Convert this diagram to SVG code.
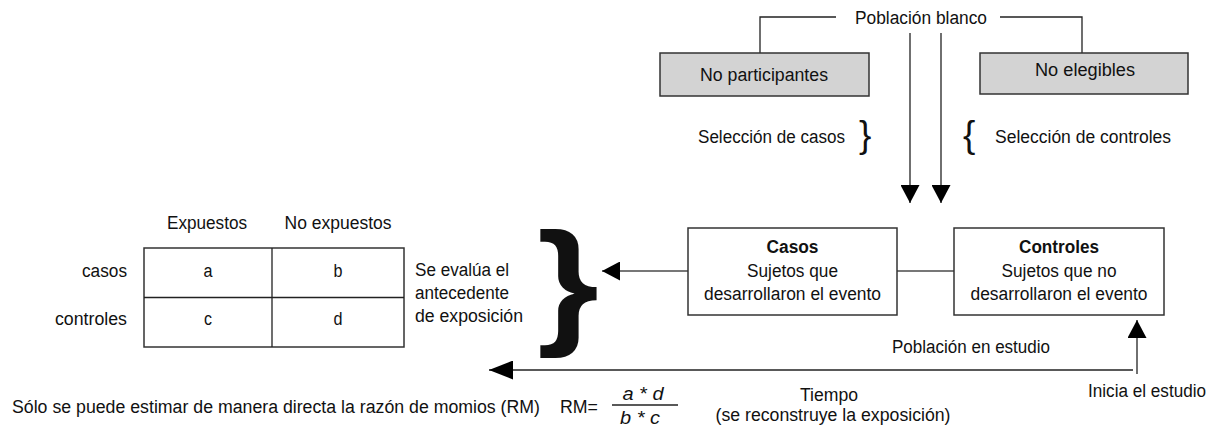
<svg xmlns="http://www.w3.org/2000/svg" width="1218" height="429" viewBox="0 0 1218 429">
<defs>
<style>
text{font-family:"Liberation Sans",Arial,sans-serif;font-size:18px;fill:#111}
.m{text-anchor:middle}
.e{text-anchor:end}
.b{font-weight:bold}
.i{font-style:italic}
.box{fill:#fff;stroke:#333;stroke-width:1.5}
.gbox{fill:#d3d3d3;stroke:#333;stroke-width:1.5}
.ln{fill:none;stroke:#222;stroke-width:1.3}
.gl{fill:none;stroke:#777;stroke-width:2}
</style>
<marker id="ah" viewBox="0 0 18 19" refX="18" refY="9.5" markerWidth="18" markerHeight="19" orient="auto" markerUnits="userSpaceOnUse"><path d="M0,0 L18,9.5 L0,19 z" fill="#000"/></marker>
<marker id="ahL" viewBox="0 0 24 19" refX="24" refY="9.5" markerWidth="24" markerHeight="19" orient="auto" markerUnits="userSpaceOnUse"><path d="M0,0 L24,9.5 L0,19 z" fill="#000"/></marker>
</defs>

<g id="connectors">
<path class="ln" d="M836,17 H760 V53"/>
<path class="ln" d="M1000,17 H1082 V53"/>
<path class="ln" d="M910,33 V203" marker-end="url(#ah)"/>
<path class="ln" d="M941,33 V203" marker-end="url(#ah)"/>
<path class="gl" d="M897,271 H954"/>
<path class="gl" d="M688,271 H602" marker-end="url(#ah)"/>
<path class="ln" d="M1133,370 H489" marker-end="url(#ahL)"/>
<path class="ln" d="M1137,374 V320" marker-end="url(#ah)"/>
</g>

<g id="poblacion-blanco"><text class="m" x="921" y="24" textLength="132" lengthAdjust="spacingAndGlyphs">Población blanco</text></g>

<g id="no-participantes">
<rect class="gbox" x="660" y="53" width="209" height="43"/>
<text class="m" x="764" y="81" textLength="128" lengthAdjust="spacingAndGlyphs">No participantes</text>
</g>

<g id="no-elegibles">
<rect class="gbox" x="980" y="53" width="208" height="41"/>
<text class="m" x="1085" y="76" textLength="100" lengthAdjust="spacingAndGlyphs">No elegibles</text>
</g>

<g id="seleccion-casos">
<text class="e" x="845" y="143" textLength="147" lengthAdjust="spacingAndGlyphs">Selección de casos</text>
<text x="859" y="147" style="font-size:37px">}</text>
</g>

<g id="seleccion-controles">
<text x="963" y="147" style="font-size:37px">{</text>
<text x="995" y="143" textLength="176" lengthAdjust="spacingAndGlyphs">Selección de controles</text>
</g>

<g id="casos">
<rect class="box" x="688" y="228" width="209" height="87"/>
<text class="m b" x="792.5" y="253" textLength="52" lengthAdjust="spacingAndGlyphs">Casos</text>
<text class="m" x="792.5" y="277" textLength="91" lengthAdjust="spacingAndGlyphs">Sujetos que</text>
<text class="m" x="792.5" y="300" textLength="177" lengthAdjust="spacingAndGlyphs">desarrollaron el evento</text>
</g>

<g id="controles">
<rect class="box" x="954" y="228" width="210" height="87"/>
<text class="m b" x="1059" y="253" textLength="80" lengthAdjust="spacingAndGlyphs">Controles</text>
<text class="m" x="1059" y="277" textLength="115" lengthAdjust="spacingAndGlyphs">Sujetos que no</text>
<text class="m" x="1059" y="300" textLength="177" lengthAdjust="spacingAndGlyphs">desarrollaron el evento</text>
</g>

<g id="tabla">
<text class="m" x="207" y="229" textLength="80" lengthAdjust="spacingAndGlyphs">Expuestos</text>
<text class="m" x="338" y="229" textLength="107" lengthAdjust="spacingAndGlyphs">No expuestos</text>
<rect class="box" x="144" y="248" width="260" height="99"/>
<path class="ln" d="M272,248 V347 M144,297.5 H404"/>
<text class="e" x="127" y="277" textLength="45" lengthAdjust="spacingAndGlyphs">casos</text>
<text class="e" x="127" y="325" textLength="72" lengthAdjust="spacingAndGlyphs">controles</text>
<text class="m" x="208" y="277" textLength="9" lengthAdjust="spacingAndGlyphs">a</text>
<text class="m" x="338" y="277" textLength="9" lengthAdjust="spacingAndGlyphs">b</text>
<text class="m" x="208" y="325" textLength="8" lengthAdjust="spacingAndGlyphs">c</text>
<text class="m" x="338" y="325" textLength="9" lengthAdjust="spacingAndGlyphs">d</text>
</g>

<g id="evalua">
<text x="415" y="276" textLength="94" lengthAdjust="spacingAndGlyphs">Se evalúa el</text>
<text x="415" y="299" textLength="94" lengthAdjust="spacingAndGlyphs">antecedente</text>
<text x="415" y="322" textLength="108" lengthAdjust="spacingAndGlyphs">de exposición</text>
<text x="537" y="329" class="b" style="font-size:138px" textLength="62" lengthAdjust="spacingAndGlyphs">}</text>
</g>

<g id="poblacion-estudio"><text class="m" x="971" y="353" textLength="158" lengthAdjust="spacingAndGlyphs">Población en estudio</text></g>

<g id="inicia"><text x="1088" y="397" textLength="118" lengthAdjust="spacingAndGlyphs">Inicia el estudio</text></g>

<g id="tiempo">
<text class="m" x="829" y="401" textLength="58" lengthAdjust="spacingAndGlyphs">Tiempo</text>
<text class="m" x="833" y="421" textLength="235" lengthAdjust="spacingAndGlyphs">(se reconstruye la exposición)</text>
</g>

<g id="rm">
<text x="12" y="413" textLength="528" lengthAdjust="spacingAndGlyphs">Sólo se puede estimar de manera directa la razón de momios (RM)</text>
<text x="560" y="413" textLength="38" lengthAdjust="spacingAndGlyphs">RM=</text>
<text class="m i" x="643" y="400" textLength="41" lengthAdjust="spacingAndGlyphs">a * d</text>
<path class="ln" d="M612,405 H678"/>
<text class="m i" x="640" y="424" textLength="40" lengthAdjust="spacingAndGlyphs">b * c</text>
</g>
</svg>
